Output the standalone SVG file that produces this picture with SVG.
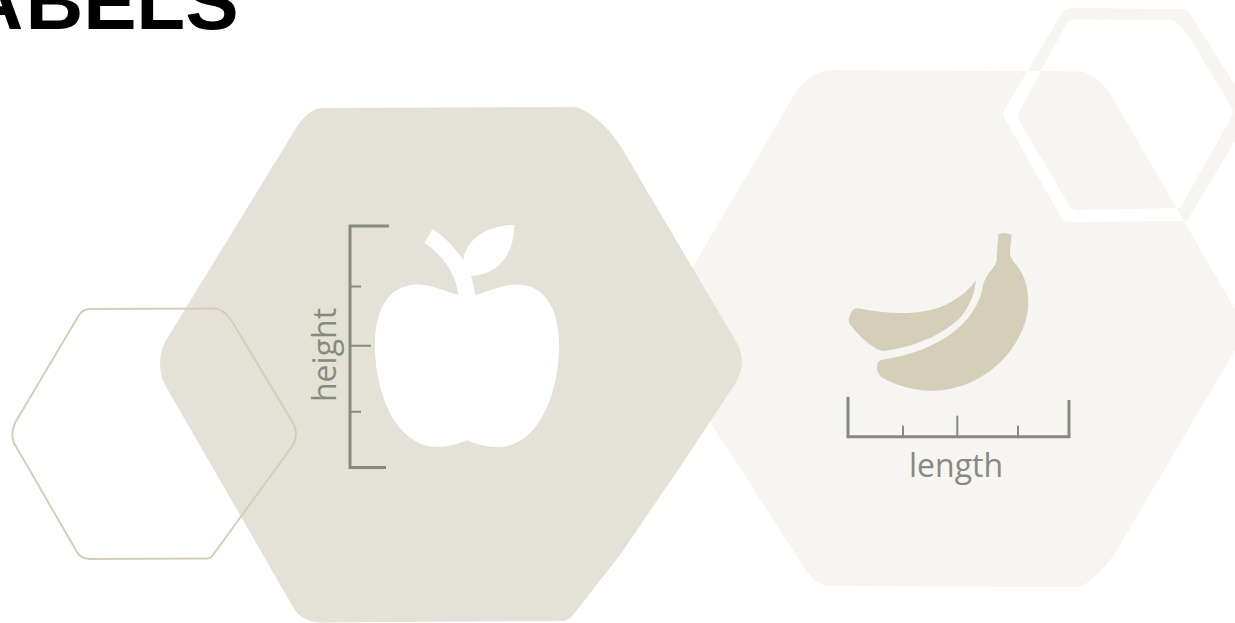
<svg xmlns="http://www.w3.org/2000/svg" xmlns:xlink="http://www.w3.org/1999/xlink" width="1235" height="623" viewBox="0 0 1235 623">
  <style>
    .main { fill: #e4e2d6; }
    .pale { fill: #f6f5f1; }
    .ruler { fill: none; stroke: #868b7f; stroke-width: 3; }
    .tick { fill: none; stroke: #868b7f; stroke-width: 2; }
    .label { font-family: "Open Sans", "Noto Sans", sans-serif; font-size: 32px; fill: #868b7f; }
    .title { font-family: "Liberation Sans", Arial, sans-serif; font-weight: bold; font-size: 80px; fill: #000; }
  </style>
  <defs>
    <path id="bigHex" d="M835 70 L1083 71.5 C1092 75 1102 81 1110 93 L1247 330 L1123 540 C1112 560 1095 580 1080 587 L827 586 C815 584 806 572 798 558 L712 425 L680 376 L661 321 L797 90 C808 76 820 70 835 70 Z"/>
    <path id="ring" fill-rule="evenodd" d="M1072 8 L1183 9 Q1188 9 1191 15 L1252 113 L1187 221 L1070 222 Q1064 222 1061 217 L1004.5 118 Q1002.5 113 1005 109 L1060 16 Q1064 8 1072 8 Z M1074 19.5 L1172 20 Q1182 24 1192 42 L1232 108 Q1234 113 1231 118 L1180 208 L1077 210 Q1072 210 1069 205 L1021 124 Q1017 116 1020 110 L1042 69 L1067 23 Q1069 20 1074 19.5 Z"/>
    <clipPath id="bigClip"><use xlink:href="#bigHex" href="#bigHex"/></clipPath>
  </defs>
  <rect width="1235" height="623" fill="#ffffff"/>
  <text class="title" x="-34.5 25.6 83.2 136.3 185.2" y="28.5">ABELS</text>
  <g id="hex-ring-right">
    <use href="#ring" class="pale"/>
  </g>
  <g id="hex-banana">
    <use href="#bigHex" class="pale"/>
    <g clip-path="url(#bigClip)"><use href="#ring" fill="#ffffff"/></g>
  </g>
  <g id="hex-apple">
    <path class="main" d="M322 108 L575 107 C590 110 613 130 627 157 L737 343 C744 355 744 372 733 387 L680 467 L620 555 L577 610 C572 617 568 621 563 621 L320 622.5 C308 622 298 616 293 607 L165 385 C158 372 158 352 168 337 L295 130 C302 118 312 108 322 108 Z"/>
  </g>
  <g id="hex-outline-left">
    <path fill="none" stroke="#d5cfba" stroke-width="2" d="M90 309 L215 308.5 C222 309 228 315 233 323 L293 423 C297 430 297 437 293 445 L213 555 C211 558 209 558.5 207 558.5 L90 559 C84 559 80 557 77 552 L14 443 C12 438 12 430 15 423 L79 315 C82 311 85 309 90 309 Z"/>
  </g>
  <g id="apple">
    <path fill="#ffffff" d="M458.3 295 C445 291 430 284.5 417 284.5 C392 284.5 375 305 375 345 C375 395 397 447 438 447 C448 447 458 444 467 440 C476 444 486 447 497 447 C538 447 559 395 559 345 C559 305 542 284.5 517 284.5 C504 284.5 490 291 475 295 C474 287 473 282 471 276 C495 275 514 258 514.3 224.7 C485 226 466 240 463.3 260 C455 248 445 237 432.7 229 L424.3 242.7 C443 255 456 274 458.3 295 Z"/>
    <g id="ruler-height">
      <path class="ruler" d="M389 226 L350 226 L350 467.5 L386 467.5"/>
      <path class="tick" d="M350 286.5 H361 M350 345.7 H371 M350 411.7 H361"/>
    </g>
    <text class="label" transform="translate(336 402) rotate(-90)">height</text>
  </g>
  <g id="banana">
    <path fill="#d5cfba" d="M998.3 234 C1002 232.5 1008 233 1011.7 235 C1011 242 1010 249 1010 255 C1012 261 1017 265 1020 270 C1026 280 1028.3 290 1028.3 303.3 C1028 340 990 391 930 390.7 C910 390 893 384 881 377 C877 373 876.5 368 877.3 365 C878 361 880 360 884 359.5 C915 355 945 342 963.3 323.3 C973 313 979 302 981.7 291.7 C983 284 985 278 989 273 C994 267 997 263 996.7 258 C997 250 998 242 998.3 234 Z"/>
    <path fill="#d5cfba" d="M976 280 C974 298 968 308 960 318 C942 335 915 347 884 350.7 C880 351 878 350 874 347 C865 342 855 331 849 323 C848 318 851 311 854 309 C856 308 858 308 860 308.5 C890 315 925 315 945 305 C958 299 968 291 976 280 Z"/>
    <g id="ruler-length">
      <path class="ruler" d="M848 396.7 L848 436.7 L1069 436.7 L1069 400"/>
      <path class="tick" d="M903 436 V425.7 M957.3 436 V415.7 M1018 436 V425.7"/>
    </g>
    <text class="label" x="909" y="476.5">length</text>
  </g>
</svg>
